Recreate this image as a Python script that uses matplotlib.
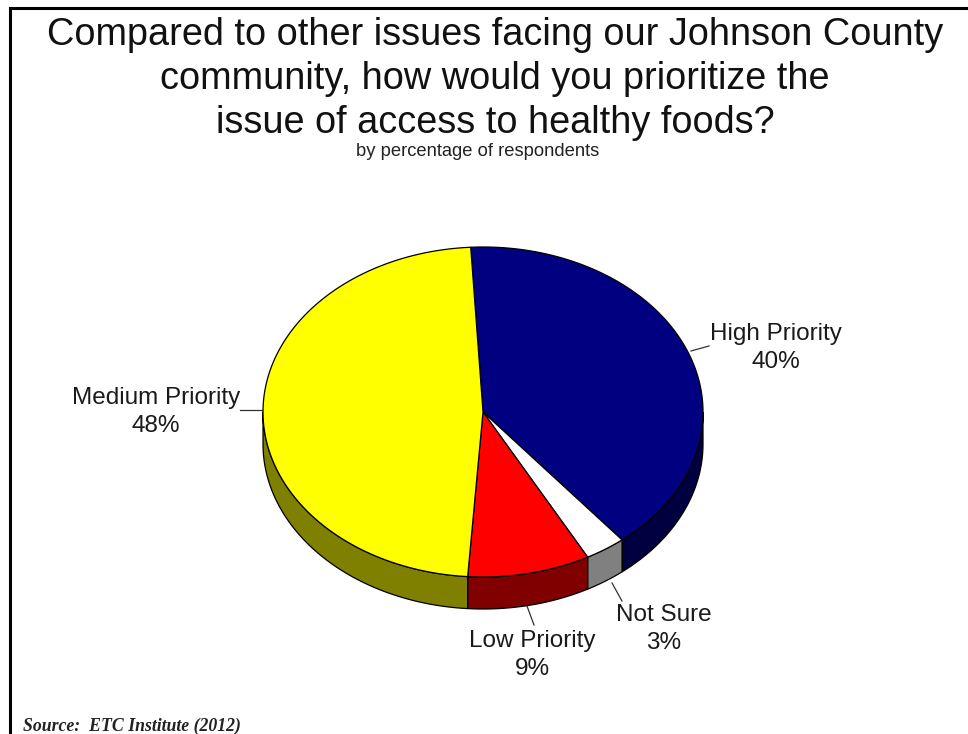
import numpy as np
import matplotlib
matplotlib.use('Agg')
import matplotlib.pyplot as plt
from matplotlib.patches import Polygon

# pie slices, clockwise from the top
labels = ['High Priority', 'Not Sure', 'Low Priority', 'Medium Priority']
values = [40, 3, 9, 48]
top_colors = ['#000080', '#ffffff', '#ff0000', '#ffff00']
side_colors = ['#000040', '#808080', '#800000', '#808000']

title_lines = ['Compared to other issues facing our Johnson County',
               'community, how would you prioritize the',
               'issue of access to healthy foods?']
subtitle = 'by percentage of respondents'
source = 'Source:  ETC Institute (2012)'

W, H = 968, 734
cx, cy, rx, ry = 483, 412, 220, 165
depth = 32
start = -3.2


def arc(t0, t1, dy=0):
    t = np.radians(np.linspace(t0, t1, max(int(abs(t1 - t0)) * 2, 2)))
    return np.column_stack([cx + rx * np.sin(t), cy - ry * np.cos(t) + dy])


fig = plt.figure(figsize=(W / 100, H / 100), dpi=100)
ax = fig.add_axes((0, 0, 1, 1))
ax.set_xlim(0, W)
ax.set_ylim(H, 0)
ax.set_axis_off()

edges = np.cumsum([0] + values) * 3.6 + start
for i in range(len(values)):
    t0, t1 = edges[i], edges[i + 1]
    # only the front half of the rim can be seen
    a, b = max(t0, 90), min(t1, 270)
    if b > a:
        rim = np.vstack([arc(a, b), arc(b, a, depth)])
        ax.add_patch(Polygon(rim, closed=True, fc=side_colors[i], ec='black', lw=0.9, zorder=2))
    face = np.vstack([[cx, cy], arc(t0, t1)])
    ax.add_patch(Polygon(face, closed=True, fc=top_colors[i], ec='black', lw=0.9, zorder=3))

# leader lines
leaders = [((691, 351), (709, 346)), ((612, 583), (622, 601)),
           ((527, 606), (534, 625)), ((240, 410), (263, 410))]
for p, q in leaders:
    ax.plot([p[0], q[0]], [p[1], q[1]], color='#333333', lw=0.9, zorder=1)

# slice labels
label_pos = [(776, 348), (664, 629), (532, 655), (156, 412)]
for name, v, (x, y) in zip(labels, values, label_pos):
    ax.text(x, y, f'{name}\n{v}%', ha='center', va='center', fontsize=17.5,
            family='Liberation Sans', color='#1a1a1a', linespacing=1.32)

title_y = [35, 79, 123]
for line, y in zip(title_lines, title_y):
    ax.text(495, y, line, ha='center', va='center', fontsize=27.3,
            family='Liberation Sans', color='#111111')
ax.text(478, 152, subtitle, ha='center', va='center', fontsize=13.2,
        family='Liberation Sans', color='#222222')
ax.text(23, 726, source, ha='left', va='center', fontsize=12.8, family='Liberation Serif',
        style='italic', weight='bold', color='#222222')

# frame along the top and left only
ax.plot([W, 9.5, 9.5], [8, 8, H], color='black', lw=2.2, solid_joinstyle='miter', zorder=5)

fig.savefig('out.png', dpi=100)
